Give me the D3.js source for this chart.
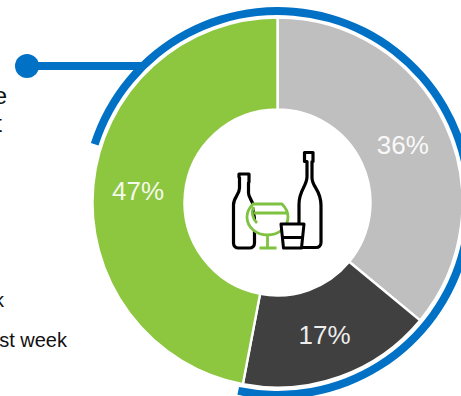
<!DOCTYPE html>
<html>
<head>
<meta charset="utf-8">
<script src="https://cdn.jsdelivr.net/npm/d3@7/dist/d3.min.js"></script>
<style>
html,body{margin:0;padding:0;background:#fff;overflow:hidden}
svg{display:block}
text{font-family:"Liberation Sans",Arial,sans-serif}
</style>
</head>
<body>
<svg id="chart" width="461" height="396"></svg>
<script>
// Share of respondents per answer, clockwise from twelve o'clock
const categories = ["grey", "dark", "green"];
const shares = [36, 17, 47];
const shareColors = ["#bfbfbf", "#404040", "#8dc63f"];
// Side captions, only their visible tails fall inside the frame
const captionTexts = ["e", "t", "k", "st week"];
const captionRight = [7, 2, 4, 67];
const captionBaseline = [104, 132, 306.5, 346.5];
const captionSize = [24, 24, 20, 20];

const svg = d3.select("#chart");
const cx = 277.5, cy = 202.5;
const outerR = 185, innerR = 93;

const pie = d3.pie().value(d => d.share).sort(null);
const arc = d3.arc().innerRadius(innerR).outerRadius(outerR);
const rows = categories.map((c, i) => ({category: c, share: shares[i], color: shareColors[i]}));
const arcs = pie(rows);

const ring = svg.append("g").attr("transform", `translate(${cx},${cy})`);
ring.selectAll("path.slice").data(arcs).join("path")
  .attr("class", "slice")
  .attr("d", arc)
  .attr("fill", d => d.data.color)
  .attr("stroke", "#fff")
  .attr("stroke-width", 2.4);

// Percentage labels, nudged off the slice centroids
const labelOffset = [[-0.5, 2], [0, 2], [-1, 2]];
ring.selectAll("text.share").data(arcs).join("text")
  .attr("class", "share")
  .attr("x", (d, i) => arc.centroid(d)[0] + labelOffset[i][0])
  .attr("y", (d, i) => arc.centroid(d)[1] + labelOffset[i][1])
  .attr("text-anchor", "middle")
  .attr("dominant-baseline", "central")
  .attr("fill", "#fff")
  .attr("fill-opacity", 0.92)
  .attr("font-size", 26)
  .text(d => d.data.share + "%");

// Blue band that wraps most of the ring and its leader to the caption dot
const blue = "#0071c5";
const deg = Math.PI / 180;
const band = d3.arc().innerRadius(188).outerRadius(196)
  .startAngle(-72.2 * deg).endAngle(191.8 * deg);
svg.append("path").attr("transform", `translate(${cx},203)`).attr("d", band()).attr("fill", blue);
svg.append("line").attr("x1", 27).attr("y1", 66).attr("x2", 143).attr("y2", 66)
  .attr("stroke", blue).attr("stroke-width", 8);
svg.append("circle").attr("cx", 27).attr("cy", 66).attr("r", 12).attr("fill", blue);

// Caption tails
svg.selectAll("text.caption").data(captionTexts).join("text")
  .attr("class", "caption")
  .attr("x", (d, i) => captionRight[i])
  .attr("y", (d, i) => captionBaseline[i])
  .attr("text-anchor", "end")
  .attr("font-size", (d, i) => captionSize[i])
  .attr("fill", "#111")
  .text(d => d);

// Bottles and glasses pictogram in the hole of the ring
const icon = svg.append("g").attr("fill", "none").attr("stroke-linejoin", "round");
const black = "#000";
const outline = [
  // left bottle
  "M241 174h8v8l-0.500 1v10c0 6 6 8 6 20v30c0 3-2 5-5 5h-11c-3 0-5-2-5-5v-38c0-8 6-10 6-17v-10l-0.500-1v-3z",
  // right bottle
  "M304.500 152.500h8.500v9h-1v16c0 10 9 12 9 28v37c0 3-2 5-5 5h-17v-43c0-15 8-18 8-28v-15h-2.500z"
];
icon.selectAll("path.bottle").data(outline).join("path")
  .attr("class", "bottle").attr("d", d => d)
  .attr("stroke", black).attr("stroke-width", 3.2);
// stemmed glass, filled white so it hides the bottle behind it
icon.append("path")
  .attr("d", "M253 204h29c3 3 6 8 6 13 0 10-9 18-20.500 18s-20.500-8-20.500-18c0-5 3-10 6-13zM254 213h34M254 207c-3 4-2 11 3 16M267.500 235v13M259.500 248h17")
  .attr("stroke", "#7fc241").attr("stroke-width", 2.8).attr("fill", "#fff");
// tumbler
icon.append("path")
  .attr("d", "M281 224h23l-2.500 24h-18zM282.500 237.500h20")
  .attr("stroke", black).attr("stroke-width", 3).attr("fill", "#fff");
</script>
</body>
</html>
